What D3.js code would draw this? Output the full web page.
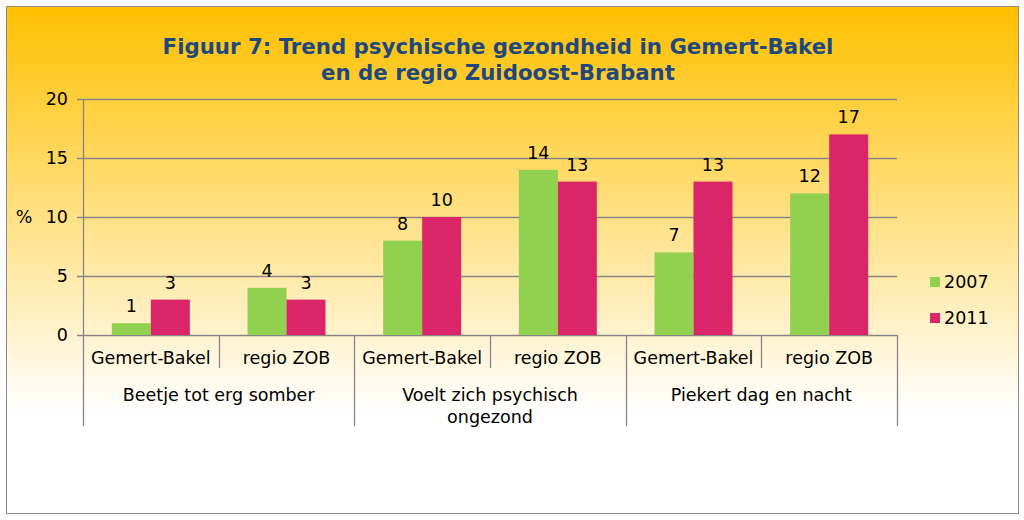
<!DOCTYPE html>
<html><head><meta charset="utf-8">
<script src="https://cdn.jsdelivr.net/npm/d3@7"></script>
<style>body{margin:0;background:#fff}svg{display:block}text{font-family:"DejaVu Sans",Verdana,sans-serif}</style>
</head><body>
<script>
const groups = ["Beetje tot erg somber", "Voelt zich psychisch\nongezond", "Piekert dag en nacht"];
const regions = ["Gemert-Bakel", "regio ZOB"];
const series = ["2007", "2011"];
const values2007 = [1, 4, 8, 14, 7, 12];
const values2011 = [3, 3, 10, 13, 13, 17];
const yTicks = [0, 5, 10, 15, 20];
const colors = ["#92D050", "#DB2569"];
const titleLines = ["Figuur 7: Trend psychische gezondheid in Gemert-Bakel", "en de regio Zuidoost-Brabant"];

const W = 1024, H = 520, FS = 17.5;
const svg = d3.select("body").append("svg").attr("width", W).attr("height", H);
const defs = svg.append("defs");
const grad = defs.append("linearGradient").attr("id","bg").attr("x1",0).attr("y1",0).attr("x2",0).attr("y2",1);
grad.append("stop").attr("offset","0%").attr("stop-color","#FFC000");
grad.append("stop").attr("offset","80%").attr("stop-color","#FFFFFF");
grad.append("stop").attr("offset","100%").attr("stop-color","#FFFFFF");
svg.append("rect").attr("x",6.5).attr("y",6.5).attr("width",1012).attr("height",507)
  .attr("fill","url(#bg)").attr("stroke","#8C8C8C").attr("stroke-width",1);

titleLines.forEach((t,i)=>svg.append("text").attr("x",498).attr("y",54+i*26).attr("text-anchor","middle")
  .attr("font-size",21.3).attr("font-weight","bold").attr("fill","#1F497D").text(t));

const L = 83, R = 897, T = 99, B = 335;
const cats = d3.range(values2007.length);
const x = d3.scaleBand().domain(cats).range([L, R]).paddingInner(0).paddingOuter(0);
const y = d3.scaleLinear().domain([0, 20]).range([B, T]);
const bw = 39;
const xs = d3.scaleBand().domain(series).range([0, bw*2]);

const g = svg.append("g");
g.selectAll("line.grid").data(yTicks).join("line")
  .attr("x1", L-6).attr("x2", R).attr("y1", d=>y(d)+0.5).attr("y2", d=>y(d)+0.5)
  .attr("stroke","#868686").attr("stroke-width",1.3);
g.append("line").attr("x1",L+0.5).attr("x2",L+0.5).attr("y1",T).attr("y2",B).attr("stroke","#868686").attr("stroke-width",1.3);
g.selectAll("text.yl").data(yTicks).join("text")
  .attr("x", 68).attr("y", d=>y(d)+6).attr("text-anchor","end").attr("font-size",FS).attr("fill","#000").text(d=>d);
svg.append("text").attr("x",24).attr("y",y(10)+6).attr("text-anchor","middle").attr("font-size",FS).text("%");

const data = [];
cats.forEach(i=>{ data.push({i, s:"2007", v:values2007[i]}); data.push({i, s:"2011", v:values2011[i]}); });
const off = (x.bandwidth() - bw*2)/2;
svg.append("g").selectAll("rect").data(data).join("rect")
  .attr("x", d=>x(d.i)+off+xs(d.s)).attr("width", xs.bandwidth())
  .attr("y", d=>y(d.v)).attr("height", d=>B - y(d.v))
  .attr("fill", d=>colors[series.indexOf(d.s)]);
svg.append("g").selectAll("text").data(data).join("text")
  .attr("x", d=>x(d.i)+off+xs(d.s)+xs.bandwidth()/2).attr("y", d=>y(d.v)-11)
  .attr("text-anchor","middle").attr("font-size",FS).text(d=>d.v);

const ax = svg.append("g");
cats.forEach(i=>{
  ax.append("text").attr("x", x(i)+x.bandwidth()/2).attr("y", 364).attr("text-anchor","middle")
    .attr("font-size",FS).text(regions[i%2]);
});
const bounds = d3.range(values2007.length+1).map(k=> k<values2007.length ? x(k) : R);
bounds.forEach((bx,k)=>{
  const long = k%2===0;
  ax.append("line").attr("x1",Math.round(bx)+0.5).attr("x2",Math.round(bx)+0.5).attr("y1",B).attr("y2", long?426:368)
    .attr("stroke","#868686").attr("stroke-width",1.3);
});
groups.forEach((gname,gi)=>{
  const cx = (x(gi*2) + (gi*2+2<values2007.length ? x(gi*2+2) : R))/2;
  gname.split("\n").forEach((line,li)=>{
    ax.append("text").attr("x",cx).attr("y",401+li*22).attr("text-anchor","middle").attr("font-size",FS).text(line);
  });
});

series.forEach((s,i)=>{
  const ly = 282 + i*36;
  svg.append("rect").attr("x",930).attr("y",ly-5).attr("width",10).attr("height",10).attr("fill",colors[i]);
  svg.append("text").attr("x",944).attr("y",ly+6).attr("font-size",FS).text(s);
});
</script>
</body></html>
